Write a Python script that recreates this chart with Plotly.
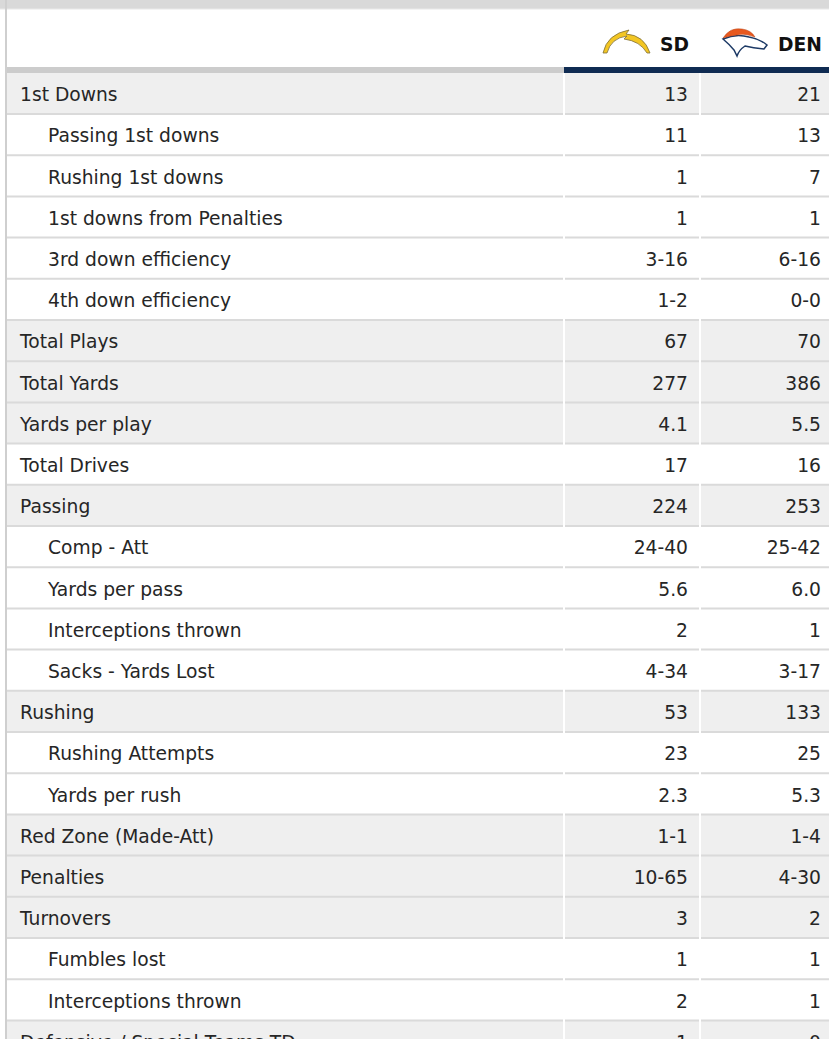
import plotly.graph_objects as go

# ---------------- data ----------------
stat_labels = [
    "1st Downs", "Passing 1st downs", "Rushing 1st downs", "1st downs from Penalties",
    "3rd down efficiency", "4th down efficiency", "Total Plays", "Total Yards",
    "Yards per play", "Total Drives", "Passing", "Comp - Att", "Yards per pass",
    "Interceptions thrown", "Sacks - Yards Lost", "Rushing", "Rushing Attempts",
    "Yards per rush", "Red Zone (Made-Att)", "Penalties", "Turnovers", "Fumbles lost",
    "Interceptions thrown", "Defensive / Special Teams TD",
]
indented = [0, 1, 1, 1, 1, 1, 0, 0, 0, 0, 0, 1, 1, 1, 1, 0, 1, 1, 0, 0, 0, 1, 1, 0]
shaded = [1, 0, 0, 0, 0, 0, 1, 1, 1, 0, 1, 0, 0, 0, 0, 1, 0, 0, 1, 1, 1, 0, 0, 1]
sd_values = ["13", "11", "1", "1", "3-16", "1-2", "67", "277", "4.1", "17", "224", "24-40",
             "5.6", "2", "4-34", "53", "23", "2.3", "1-1", "10-65", "3", "1", "2", "1"]
den_values = ["21", "13", "7", "1", "6-16", "0-0", "70", "386", "5.5", "16", "253", "25-42",
              "6.0", "1", "3-17", "133", "25", "5.3", "1-4", "4-30", "2", "1", "1", "0"]
team_labels = ["SD", "DEN"]

# ---------------- layout constants (pixels) ----------------
W, H = 829, 1039
ROW_H = 41.2
TOP = 72.8            # top of first body row
LEFT = 6              # left border
COL1, COL2 = 564, 700  # column dividers
FONT = "DejaVu Sans, Verdana, sans-serif"
TXT = "#262626"
FS = 18.7
TEXT_DY = 0.075       # small downward nudge of text within a row

n = len(stat_labels)
rows = list(range(n))
ty = [r + TEXT_DY for r in rows]
y_top = (0 - TOP) / ROW_H - 0.5
y_bot = (H - TOP) / ROW_H - 0.5

fig = go.Figure()

# labels
for lvl, xpos in [(0, 20), (1, 48)]:
    idx = [i for i in rows if indented[i] == lvl]
    fig.add_trace(go.Scatter(
        x=[xpos] * len(idx), y=[ty[i] for i in idx], text=[stat_labels[i] for i in idx],
        mode="text", textposition="middle right",
        textfont=dict(family=FONT, size=FS, color=TXT), hoverinfo="skip",
        showlegend=False))

for vals, xr in [(sd_values, 688), (den_values, 821)]:
    fig.add_trace(go.Scatter(
        x=[xr] * n, y=ty, text=vals, mode="text", textposition="middle left",
        textfont=dict(family=FONT, size=FS, color=TXT), hoverinfo="skip",
        showlegend=False))

# header team labels (pixel axes x2/y2)
fig.add_trace(go.Scatter(
    x=[689, 822], y=[46, 46], text=[f"<b>{t}</b>" for t in team_labels],
    mode="text", textposition="middle left", xaxis="x2", yaxis="y2",
    textfont=dict(family=FONT, size=FS, color="#111111"), hoverinfo="skip",
    showlegend=False))

shapes = []
# row backgrounds
for i in rows:
    shapes.append(dict(type="rect", xref="x", yref="y", x0=LEFT, x1=W, y0=i - 0.5, y1=i + 0.5,
                       fillcolor="#efefef" if shaded[i] else "#ffffff", line_width=0, layer="below"))
# row separators
for i in rows[1:]:
    shapes.append(dict(type="line", xref="x", yref="y", x0=LEFT, x1=W, y0=i - 0.5, y1=i - 0.5,
                       line=dict(color="#dadada", width=2), layer="below"))
# column dividers
for xc in (COL1, COL2):
    shapes.append(dict(type="line", xref="x", yref="y", x0=xc, x1=xc, y0=-0.5, y1=y_bot,
                       line=dict(color="#ffffff", width=2), layer="below"))

# header decorations in pixel space (x2/y2)
shapes += [
    dict(type="rect", xref="x2", yref="y2", x0=0, x1=W, y0=0, y1=9,
         fillcolor="#d9d9d9", line_width=0, layer="below"),
    dict(type="line", xref="x2", yref="y2", x0=0, x1=W, y0=9, y1=9,
         line=dict(color="#e8e8e8", width=1), layer="below"),
    dict(type="line", xref="x2", yref="y2", x0=LEFT, x1=LEFT, y0=0, y1=H,
         line=dict(color="#cfcfcf", width=2), layer="above"),
    dict(type="rect", xref="x2", yref="y2", x0=LEFT, x1=COL1, y0=67, y1=73,
         fillcolor="#cccccc", line_width=0, layer="below"),
    dict(type="rect", xref="x2", yref="y2", x0=COL1, x1=W, y0=67, y1=73,
         fillcolor="#0f2b52", line_width=0, layer="below"),
    # Chargers bolt
    dict(type="path", xref="x2", yref="y2",
         path="M 603 53 Q 607 34 629 30 L 626 34 Q 644 35 650 53 L 647 53 "
              "Q 640 41 624 39 L 627 36 Q 611 38 607 53 Z",
         fillcolor="#f3c623", line=dict(color="#7d6f3a", width=0.8), layer="above"),
    # Broncos head
    dict(type="path", xref="x2", yref="y2",
         path="M 723 39 Q 736 33 749 37 Q 760 39 767 45 L 764 49 Q 753 48 745 46 "
              "Q 739 50 737 56 L 734 50 Q 729 44 723 39 Z",
         fillcolor="#ffffff", line=dict(color="#1d3a66", width=1.5), layer="above"),
    dict(type="path", xref="x2", yref="y2",
         path="M 723 38 Q 730 27 742 29 Q 751 30 755 37 Q 746 33 737 35 Q 729 36 723 38 Z",
         fillcolor="#e8591f", line=dict(color="#b83e10", width=0.5), layer="above"),
]

ax_common = dict(visible=False, showgrid=False, zeroline=False, fixedrange=True)
fig.update_layout(
    width=W, height=H, margin=dict(l=0, r=0, t=0, b=0),
    paper_bgcolor="#ffffff", plot_bgcolor="#ffffff",
    xaxis=dict(range=[0, W], **ax_common),
    yaxis=dict(range=[y_bot, y_top], **ax_common),
    xaxis2=dict(range=[0, W], overlaying="x", **ax_common),
    yaxis2=dict(range=[H, 0], overlaying="y", **ax_common),
    shapes=shapes, showlegend=False,
)

fig.write_html("out.html", config={"displayModeBar": False},
               post_script="document.body.style.margin='0';")
